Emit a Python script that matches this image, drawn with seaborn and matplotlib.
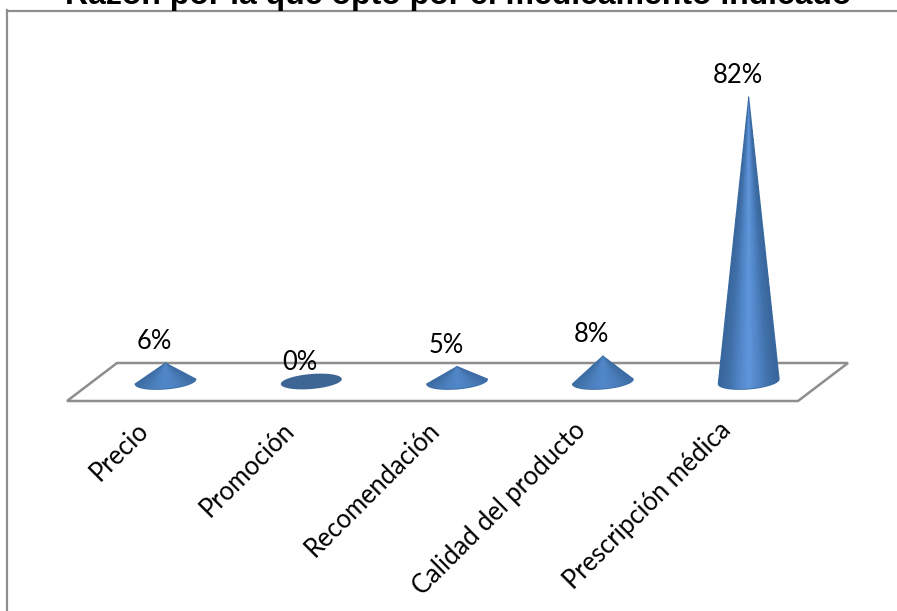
import numpy as np
import pandas as pd
import matplotlib
matplotlib.use("Agg")
import matplotlib.pyplot as plt
from matplotlib.colors import LinearSegmentedColormap
from matplotlib.transforms import ScaledTranslation
from matplotlib.patches import Polygon
import seaborn as sns

categories = ["Precio", "Promoción", "Recomendación", "Calidad del producto", "Prescripción médica"]
percent_values = [6, 0, 5, 8, 82]
title_text = "Razón por la que optó por el medicamento indicado"

W, H = 897, 611
sns.set_theme(style="white")
plt.rcParams["font.family"] = ["Lato", "DejaVu Sans"]

fig = plt.figure(figsize=(W / 100, H / 100), dpi=100, facecolor="white")
TOP, LEFT = 10.5, 7.0
ax = fig.add_axes([LEFT / W, 0, (W - LEFT) / W, (H - TOP) / H])

# pixel scale of the two axes
X0, XS = 165.5, 145.8
Y0, YS = 384.0, 3.5
def px_x(p): return (p - X0) / XS
def px_y(p): return (Y0 - p) / YS

df = pd.DataFrame({"pos": np.arange(len(categories)), "val": percent_values})
sns.barplot(data=df, x="pos", y="val", ax=ax, width=61 / XS, native_scale=True, errorbar=None)
bars = list(ax.patches)

ax.set_xlim(px_x(LEFT), px_x(W))
ax.set_ylim(px_y(H), px_y(TOP))
ax.set_xlabel("")
ax.set_ylabel("")
ax.set_yticks([])

GRAY = "#8e8e8e"
for s in ["right", "bottom"]:
    ax.spines[s].set_visible(False)
for s in ["left", "top"]:
    ax.spines[s].set_visible(True)
    ax.spines[s].set_color(GRAY)
    ax.spines[s].set_linewidth(1.6)

# floor
floor = Polygon([(px_x(67), px_y(401)), (px_x(798), px_y(401)), (px_x(848), px_y(363)), (px_x(117), px_y(363))],
                closed=True, facecolor="white", edgecolor=GRAY, linewidth=1.8, joinstyle="miter", zorder=1)
ax.add_patch(floor)

# category axis at floor level
ax.spines["bottom"].set_position(("data", px_y(401)))
ax.tick_params(axis="x", length=0, pad=12)
ax.set_xticks(range(len(categories)))
ax.set_xticklabels(categories, rotation=45, ha="right", va="top", rotation_mode="anchor",
                   fontsize=18.4, color="black")
shift = ScaledTranslation(-30 / 100, 0, fig.dpi_scale_trans)
for lab in ax.get_xticklabels():
    lab.set_transform(lab.get_transform() + shift)

cone_tall = LinearSegmentedColormap.from_list(
    "cone_tall", ["#38659a", "#4070a9", "#4f84c6", "#5f96da", "#4f84c6", "#4070a9", "#38659a"])
cone_low = LinearSegmentedColormap.from_list(
    "cone_low", ["#3d6ca3", "#4678b3", "#4d82c2", "#5087c9", "#4d82c2", "#4678b3", "#3d6ca3"])
BH = 7.5 / YS       # half height of base ellipse
TILT = 0.08 * XS / YS
CY = px_y(381.5)
N = 120
for bar, val in zip(bars, percent_values):
    cx = bar.get_x() + bar.get_width() / 2
    a = bar.get_width() / 2
    h = bar.get_height()
    bar.set_visible(False)
    if h <= 0:
        t = np.linspace(0, 2 * np.pi, 120)
        ax.fill(cx + a * np.cos(t), CY + TILT * a * np.cos(t) + BH * np.sin(t),
                color="#3d6695", zorder=3, lw=0)
    else:
        u = np.linspace(-1, 1, N + 1)
        s = np.linspace(0, 1, 121)
        U, S = np.meshgrid(u, s)
        base_y = CY + TILT * a * U - BH * np.sqrt(1 - U ** 2)
        X = cx + S * a * U
        Y = h + S * (base_y - h)
        C = np.tile(0.5 * (u[:-1] + u[1:]) * 0.5 + 0.5, (120, 1))
        ax.pcolormesh(X, Y, C, cmap=cone_tall if h > 20 else cone_low, vmin=0, vmax=1, shading="flat",
                      edgecolor="none", linewidth=0, antialiased=False, zorder=3)
        ax.plot(np.r_[cx, X[-1], cx], np.r_[h, Y[-1], h], color="#3d6ea6", lw=0.7, zorder=4)
    ax.annotate(f"{val}%", xy=(cx, h), xytext=(-11 * 0.72, 21 * 0.72), textcoords="offset points",
                ha="center", va="center", fontsize=18.4, color="black", zorder=5)

fig.text(458 / W, 1 - 4 / H, title_text, ha="center", va="baseline", fontsize=23,
         fontweight="bold", family=["Liberation Sans", "DejaVu Sans"], color="black")

fig.savefig("out.png", dpi=100)
